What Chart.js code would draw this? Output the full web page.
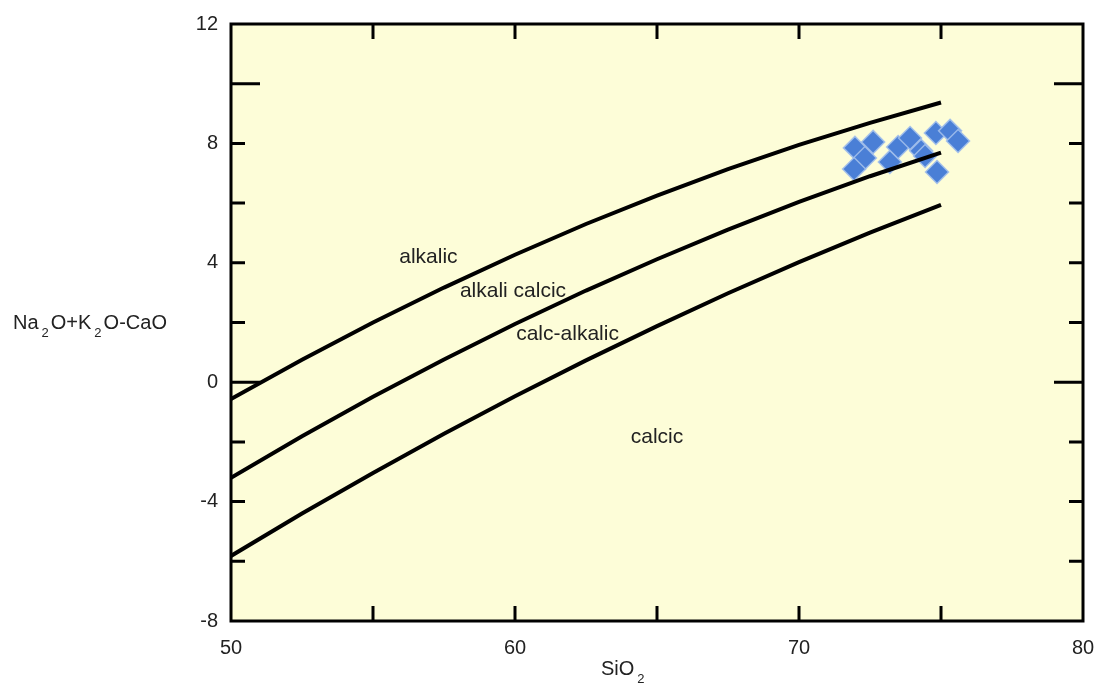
<!DOCTYPE html>
<html>
<head>
<meta charset="utf-8">
<script src="https://cdn.jsdelivr.net/npm/chart.js@4.4.1/dist/chart.umd.min.js"></script>
<style>
  html, body { margin: 0; padding: 0; background: #fff; }
</style>
</head>
<body>
<canvas id="chart" width="1099" height="695"></canvas>
<script>
// boundary curves (SiO2 vs Na2O+K2O-CaO)
const curveSiO2 = [50, 52.5, 55, 57.5, 60, 62.5, 65, 67.5, 70, 72.5, 75];
const alkalicLine = [-0.56, 0.75, 2.0, 3.17, 4.27, 5.3, 6.25, 7.14, 7.95, 8.69, 9.37];
const alkaliCalcicLine = [-3.2, -1.81, -0.49, 0.76, 1.95, 3.07, 4.12, 5.11, 6.04, 6.9, 7.69];
const calcAlkalicLine = [-5.82, -4.4, -3.04, -1.73, -0.47, 0.73, 1.88, 2.98, 4.02, 5.01, 5.94];

// samples
const sampleSiO2 = [71.97, 72.61, 72.32, 71.94, 73.2, 73.49, 73.91, 74.3, 74.82, 75.32, 75.6, 74.86, 74.44];
const sampleMALI = [7.85, 8.05, 7.51, 7.14, 7.38, 7.88, 8.18, 7.75, 8.35, 8.42, 8.08, 7.04, 7.58];

// field names
const regionNames = ["alkalic", "alkali calcic", "calc-alkalic", "calcic"];
const regionSiO2 = [56.95, 59.93, 61.85, 65.0];
const regionMALI = [4.19, 3.06, 1.61, -1.84];

const longYTicks = [10, 0];
const FONT = '"Liberation Sans", Arial, sans-serif';

function toPoints(xs, ys) {
  return xs.map((x, i) => ({ x, y: ys[i] }));
}

function curve(ys) {
  return {
    type: "line",
    data: toPoints(curveSiO2, ys),
    borderColor: "#000",
    borderWidth: 4,
    pointRadius: 0,
    showLine: true,
    fill: false,
    tension: 0,
  };
}

const diagramPlugin = {
  id: "diagram",
  beforeDraw(chart) {
    const { ctx, chartArea: a } = chart;
    ctx.save();
    ctx.fillStyle = "#fdfdd8";
    ctx.fillRect(a.left, a.top, a.right - a.left, a.bottom - a.top);
    ctx.restore();
  },
  afterDatasetsDraw(chart) {
    const { ctx, chartArea: a, scales } = chart;
    const xs = scales.x, ys = scales.y;
    ctx.save();
    ctx.strokeStyle = "#000";
    ctx.lineWidth = 3;
    ctx.lineCap = "butt";

    // inside ticks
    xs.ticks.forEach(t => {
      if (t.value <= xs.min || t.value >= xs.max) return;
      const px = xs.getPixelForValue(t.value);
      ctx.beginPath();
      ctx.moveTo(px, a.bottom); ctx.lineTo(px, a.bottom - 15);
      ctx.moveTo(px, a.top); ctx.lineTo(px, a.top + 15);
      ctx.stroke();
    });
    ys.ticks.forEach(t => {
      if (t.value <= ys.min || t.value >= ys.max) return;
      const py = ys.getPixelForValue(t.value);
      const len = longYTicks.includes(t.value) ? 29 : 14;
      ctx.beginPath();
      ctx.moveTo(a.left, py); ctx.lineTo(a.left + len, py);
      ctx.moveTo(a.right, py); ctx.lineTo(a.right - len, py);
      ctx.stroke();
    });

    // frame
    ctx.strokeRect(a.left, a.top, a.right - a.left, a.bottom - a.top);

    // field labels
    ctx.fillStyle = "#222";
    ctx.font = `21px ${FONT}`;
    ctx.textAlign = "center";
    ctx.textBaseline = "middle";
    regionNames.forEach((name, i) => {
      ctx.fillText(name, xs.getPixelForValue(regionSiO2[i]), ys.getPixelForValue(regionMALI[i]));
    });

    // axis titles with subscripts
    ctx.textAlign = "left";
    ctx.textBaseline = "alphabetic";
    drawRich(ctx, ["SiO", "2"], 601, 675);
    drawRich(ctx, ["Na", "2", "O+K", "2", "O-CaO"], 13, 329);
    ctx.restore();
  },
};

// alternate normal / subscript pieces
function drawRich(ctx, parts, x, y) {
  parts.forEach((p, i) => {
    if (i % 2 === 0) {
      ctx.font = `20px ${FONT}`;
      ctx.fillText(p, x, y);
      x += ctx.measureText(p).width + 3;
    } else {
      ctx.font = `13px ${FONT}`;
      ctx.fillText(p, x, y + 8);
      x += ctx.measureText(p).width + 2;
    }
  });
}

new Chart(document.getElementById("chart"), {
  type: "scatter",
  data: {
    datasets: [
      curve(alkalicLine),
      curve(alkaliCalcicLine),
      curve(calcAlkalicLine),
      {
        type: "scatter",
        data: toPoints(sampleSiO2, sampleMALI),
        pointStyle: "rectRot",
        pointRadius: 11.5,
        backgroundColor: "#4a7fd6",
        borderColor: "rgba(160,190,235,0.9)",
        borderWidth: 1.5,
      },
    ],
  },
  options: {
    responsive: false,
    animation: false,
    layout: { padding: { top: 24, right: 16, left: 0, bottom: 0 } },
    plugins: { legend: { display: false }, tooltip: { enabled: false } },
    scales: {
      x: {
        type: "linear",
        min: 50,
        max: 80,
        afterFit: s => { s.height = 74; s.paddingRight = 0; s.paddingLeft = 0; },
        grid: { display: false, drawTicks: false },
        border: { display: false },
        ticks: {
          stepSize: 5,
          padding: 15,
          color: "#222",
          font: { family: FONT, size: 20 },
          maxRotation: 0,
          autoSkip: false,
          callback: v => (v % 10 === 0 ? v : ""),
        },
      },
      y: {
        type: "linear",
        min: -8,
        max: 12,
        afterFit: s => { s.width = 231; s.paddingTop = 0; s.paddingBottom = 0; },
        grid: { display: false, drawTicks: false },
        border: { display: false },
        ticks: {
          stepSize: 2,
          padding: 13,
          color: "#222",
          font: { family: FONT, size: 20 },
          autoSkip: false,
          callback: v => (v % 4 === 0 ? v : ""),
        },
      },
    },
  },
  plugins: [diagramPlugin],
});
</script>
</body>
</html>
